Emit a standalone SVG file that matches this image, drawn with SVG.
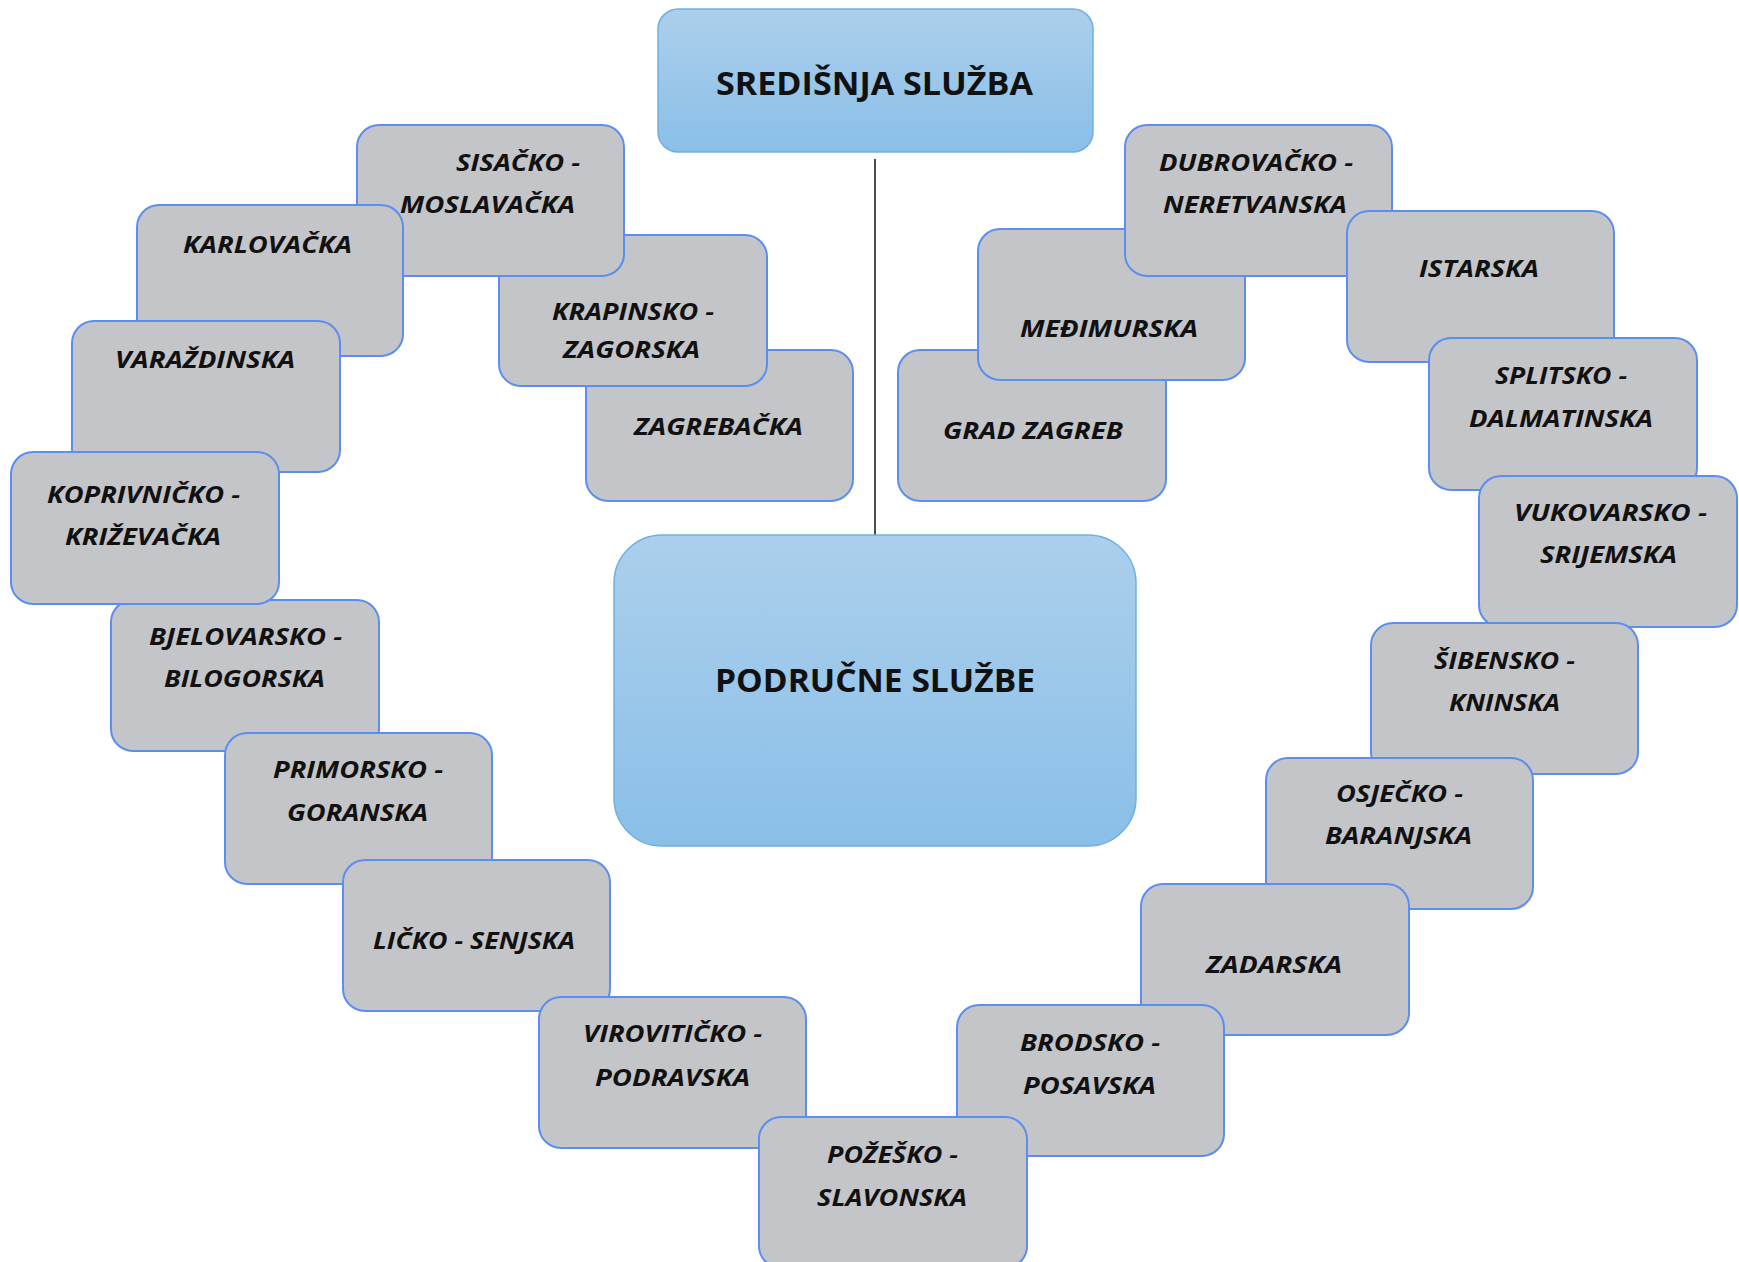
<svg xmlns="http://www.w3.org/2000/svg" width="1739" height="1262" viewBox="0 0 1739 1262">
<defs>
<linearGradient id="blueGrad" x1="0" y1="0" x2="0" y2="1">
<stop offset="0" stop-color="#abcfec"/>
<stop offset="1" stop-color="#8abfe8"/>
</linearGradient>
<style>
.main{fill:url(#blueGrad);stroke:#6fb0e2;stroke-width:1.5}
.box{fill:#c4c5c9;stroke:#5b8ef0;stroke-width:2}
.mt{font-family:"Open Sans","Liberation Sans",sans-serif;font-weight:bold;font-size:32px;fill:#111}
.t{font-family:"Open Sans","Liberation Sans",sans-serif;font-weight:bold;font-style:italic;font-size:24px;fill:#111}
.conn{stroke:#111;stroke-width:1.5;fill:none}
</style>
</defs>
<rect width="1739" height="1262" fill="#ffffff"/>

<g id="connectors">
<line class="conn" x1="875" y1="159" x2="875" y2="535"/>
</g>

<g id="sredisnja">
<rect class="main" x="658" y="9" width="435" height="143" rx="20"/>
<text class="mt" x="716" y="95" textLength="317" lengthAdjust="spacingAndGlyphs">SREDIŠNJA SLUŽBA</text>
</g>

<g id="podrucne">
<rect class="main" x="614" y="535" width="522" height="311" rx="48"/>
<text class="mt" x="715" y="692" textLength="320" lengthAdjust="spacingAndGlyphs">PODRUČNE SLUŽBE</text>
</g>

<g id="zagrebacka">
<rect class="box" x="586" y="350" width="267" height="151" rx="22"/>
<text class="t" x="634" y="435" textLength="169" lengthAdjust="spacingAndGlyphs">ZAGREBAČKA</text>
</g>
<g id="krapinsko">
<rect class="box" x="499" y="235" width="268" height="151" rx="22"/>
<text class="t" x="552" y="320" textLength="162" lengthAdjust="spacingAndGlyphs">KRAPINSKO -</text>
<text class="t" x="563" y="358" textLength="137" lengthAdjust="spacingAndGlyphs">ZAGORSKA</text>
</g>
<g id="sisacko">
<rect class="box" x="357" y="125" width="267" height="151" rx="22"/>
<text class="t" x="456" y="171" textLength="124" lengthAdjust="spacingAndGlyphs">SISAČKO -</text>
<text class="t" x="400" y="213" textLength="175" lengthAdjust="spacingAndGlyphs">MOSLAVAČKA</text>
</g>
<g id="karlovacka">
<rect class="box" x="137" y="205" width="266" height="151" rx="22"/>
<text class="t" x="183" y="253" textLength="169" lengthAdjust="spacingAndGlyphs">KARLOVAČKA</text>
</g>
<g id="varazdinska">
<rect class="box" x="72" y="321" width="268" height="151" rx="22"/>
<text class="t" x="115" y="368" textLength="180" lengthAdjust="spacingAndGlyphs">VARAŽDINSKA</text>
</g>
<g id="bjelovarsko">
<rect class="box" x="111" y="600" width="268" height="151" rx="22"/>
<text class="t" x="149" y="645" textLength="193" lengthAdjust="spacingAndGlyphs">BJELOVARSKO -</text>
<text class="t" x="164" y="687" textLength="161" lengthAdjust="spacingAndGlyphs">BILOGORSKA</text>
</g>
<g id="koprivnicko">
<rect class="box" x="11" y="452" width="268" height="152" rx="22"/>
<text class="t" x="47" y="503" textLength="193" lengthAdjust="spacingAndGlyphs">KOPRIVNIČKO -</text>
<text class="t" x="65" y="545" textLength="156" lengthAdjust="spacingAndGlyphs">KRIŽEVAČKA</text>
</g>
<g id="primorsko">
<rect class="box" x="225" y="733" width="267" height="151" rx="22"/>
<text class="t" x="273" y="778" textLength="170" lengthAdjust="spacingAndGlyphs">PRIMORSKO -</text>
<text class="t" x="287" y="821" textLength="141" lengthAdjust="spacingAndGlyphs">GORANSKA</text>
</g>
<g id="licko">
<rect class="box" x="343" y="860" width="267" height="151" rx="22"/>
<text class="t" x="373" y="949" textLength="202" lengthAdjust="spacingAndGlyphs">LIČKO - SENJSKA</text>
</g>
<g id="viroviticko">
<rect class="box" x="539" y="997" width="267" height="151" rx="22"/>
<text class="t" x="583" y="1042" textLength="179" lengthAdjust="spacingAndGlyphs">VIROVITIČKO -</text>
<text class="t" x="595" y="1086" textLength="155" lengthAdjust="spacingAndGlyphs">PODRAVSKA</text>
</g>

<g id="grad-zagreb">
<rect class="box" x="898" y="350" width="268" height="151" rx="22"/>
<text class="t" x="943" y="439" textLength="180" lengthAdjust="spacingAndGlyphs">GRAD ZAGREB</text>
</g>
<g id="medimurska">
<rect class="box" x="978" y="229" width="267" height="151" rx="22"/>
<text class="t" x="1020" y="337" textLength="178" lengthAdjust="spacingAndGlyphs">MEĐIMURSKA</text>
</g>
<g id="dubrovacko">
<rect class="box" x="1125" y="125" width="267" height="151" rx="22"/>
<text class="t" x="1159" y="171" textLength="194" lengthAdjust="spacingAndGlyphs">DUBROVAČKO -</text>
<text class="t" x="1163" y="213" textLength="184" lengthAdjust="spacingAndGlyphs">NERETVANSKA</text>
</g>
<g id="istarska">
<rect class="box" x="1347" y="211" width="267" height="151" rx="22"/>
<text class="t" x="1419" y="277" textLength="120" lengthAdjust="spacingAndGlyphs">ISTARSKA</text>
</g>
<g id="splitsko">
<rect class="box" x="1429" y="338" width="268" height="152" rx="22"/>
<text class="t" x="1495" y="384" textLength="132" lengthAdjust="spacingAndGlyphs">SPLITSKO -</text>
<text class="t" x="1469" y="427" textLength="184" lengthAdjust="spacingAndGlyphs">DALMATINSKA</text>
</g>
<g id="vukovarsko">
<rect class="box" x="1479" y="476" width="258" height="151" rx="22"/>
<text class="t" x="1514" y="521" textLength="193" lengthAdjust="spacingAndGlyphs">VUKOVARSKO -</text>
<text class="t" x="1540" y="563" textLength="137" lengthAdjust="spacingAndGlyphs">SRIJEMSKA</text>
</g>
<g id="sibensko">
<rect class="box" x="1371" y="623" width="267" height="151" rx="22"/>
<text class="t" x="1434" y="669" textLength="141" lengthAdjust="spacingAndGlyphs">ŠIBENSKO -</text>
<text class="t" x="1449" y="711" textLength="111" lengthAdjust="spacingAndGlyphs">KNINSKA</text>
</g>
<g id="osjecko">
<rect class="box" x="1266" y="758" width="267" height="151" rx="22"/>
<text class="t" x="1336" y="802" textLength="127" lengthAdjust="spacingAndGlyphs">OSJEČKO -</text>
<text class="t" x="1325" y="844" textLength="147" lengthAdjust="spacingAndGlyphs">BARANJSKA</text>
</g>
<g id="zadarska">
<rect class="box" x="1141" y="884" width="268" height="151" rx="22"/>
<text class="t" x="1206" y="973" textLength="136" lengthAdjust="spacingAndGlyphs">ZADARSKA</text>
</g>
<g id="brodsko">
<rect class="box" x="957" y="1005" width="267" height="151" rx="22"/>
<text class="t" x="1020" y="1051" textLength="140" lengthAdjust="spacingAndGlyphs">BRODSKO -</text>
<text class="t" x="1023" y="1094" textLength="133" lengthAdjust="spacingAndGlyphs">POSAVSKA</text>
</g>
<g id="pozesko">
<rect class="box" x="759" y="1117" width="268" height="151" rx="22"/>
<text class="t" x="827" y="1163" textLength="131" lengthAdjust="spacingAndGlyphs">POŽEŠKO -</text>
<text class="t" x="817" y="1206" textLength="150" lengthAdjust="spacingAndGlyphs">SLAVONSKA</text>
</g>
</svg>
